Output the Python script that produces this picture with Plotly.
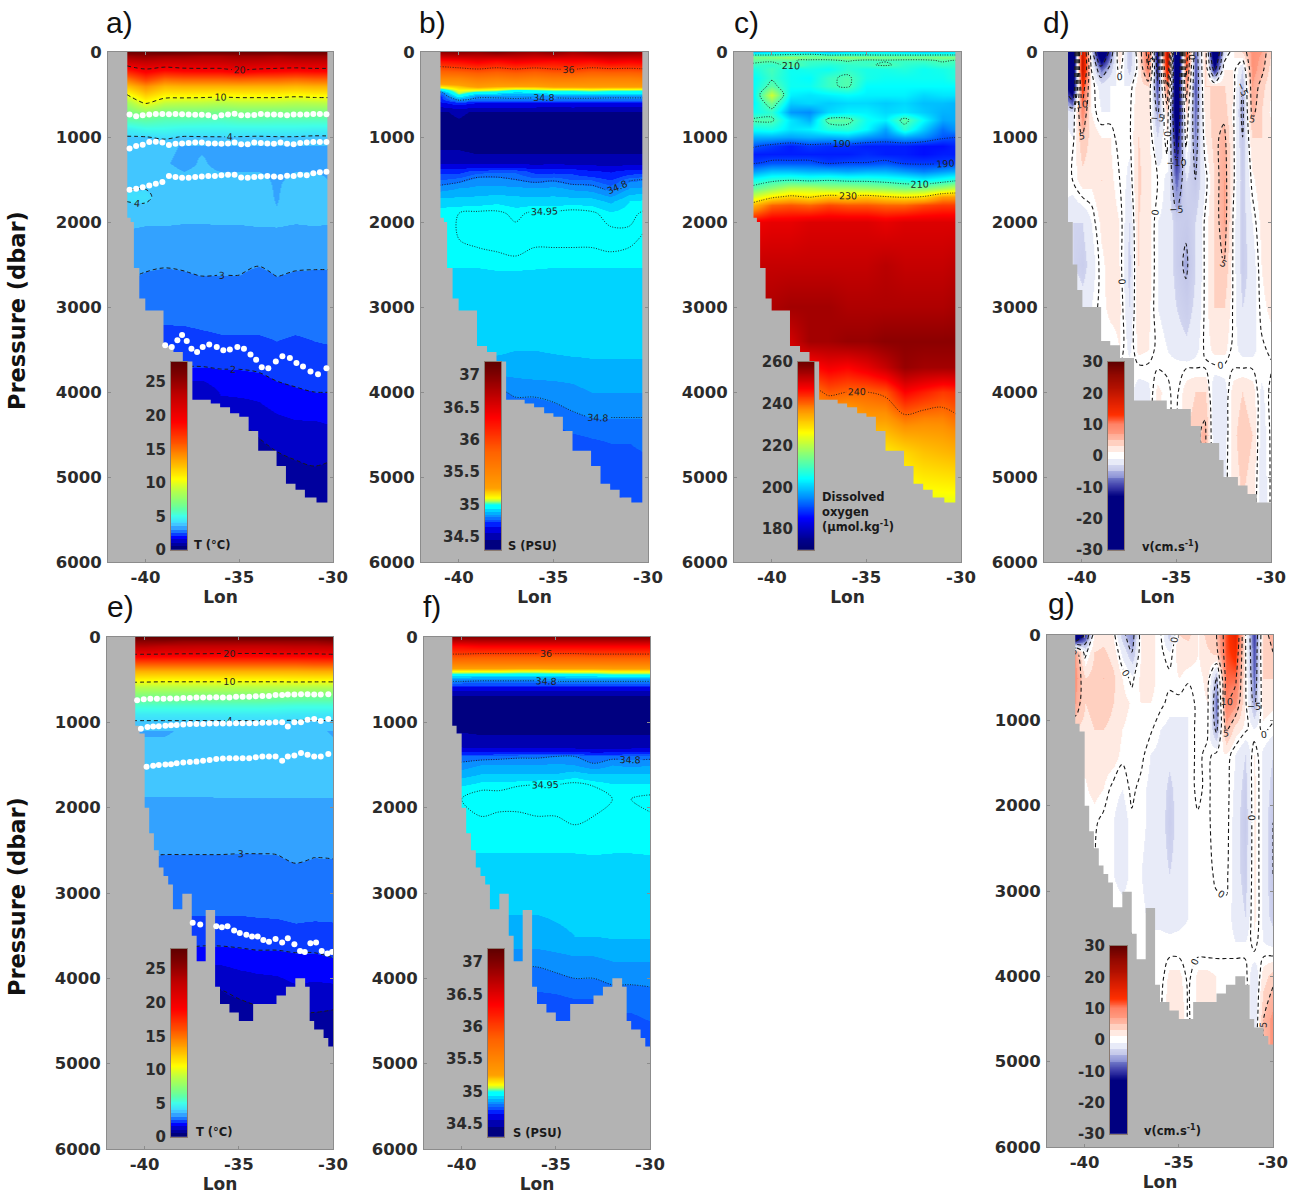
import plotly.graph_objects as go
import numpy as np

# ---------- grids ----------
lon12 = [-41,-40,-39,-38,-37,-36,-35,-34,-33,-32,-31,-30]
lon23 = [-41,-40.5,-40,-39.5,-39,-38.5,-38,-37.5,-37,-36.5,-36,-35.5,-35,-34.5,-34,-33.5,-33,-32.5,-32,-31.5,-31,-30.5,-30]
depth_t = [0,50,100,200,300,400,500,600,700,800,900,1000,1100,1300,1500,1700,2000,2300,2600,3000,3400,3700,4000,4400,4800,5300]
depth_s = [0,100,200,300,400,450,480,520,560,600,700,1000,1200,1300,1400,1500,1600,1750,1900,2200,2500,2600,3000,3500,3800,4000,4300,4600,5300]
depth_o = [0,30,60,100,150,200,300,400,500,600,700,800,900,1000,1100,1200,1300,1400,1500,1600,1700,1800,2000,2500,3000,3400,3700,4000,4300,4700,5300]
depth_v_d = [0,200,400,700,1000,1500,2000,2500,3000,3500,3700,4000,4500,5300]
depth_v_g = [0,200,500,800,1100,1400,1800,2200,2800,3300,3600,3750,4000,4500,4800]

# ---------- temperature, panel a ----------
temp_a = [
[27,27,27.5,27,27,27,27,27,27,27,27,27],
[24.5,25,24.5,24.5,24,24,24.5,24.5,24,24.5,24.5,24.5],
[22.5,23,22.5,22.6,22.6,22.6,23,22.8,22.5,22.6,22.6,22.6],
[18.5,20,19.3,19.7,19.8,19.8,20.5,20,19.8,19.6,19.8,19.8],
[15,17,15.5,15.8,15.8,15.8,16,15.8,15.8,15.5,15.8,15.8],
[12.5,14,12.8,13,13,13,13,13,13,12.8,13,13],
[10,12,10.8,10.8,10.7,10.6,10.7,10.7,10.7,10.5,10.7,10.7],
[8,10.2,9,8.8,8.8,8.6,8.8,8.8,8.8,8.6,8.7,8.8],
[6.8,7.6,6.9,6.9,6.8,6.7,6.9,6.9,6.8,6.9,6.8,6.8],
[5.8,6,5.7,5.7,5.6,5.5,5.7,5.7,5.6,5.6,5.6,5.6],
[4.5,4.9,4.9,4.7,4.7,4.7,4.7,4.7,4.7,4.7,4.6,4.6],
[3.95,3.97,4.15,3.95,3.97,3.98,3.97,3.93,3.97,3.97,3.9,3.93],
[3.6,3.52,3.55,3.48,3.48,3.48,3.48,3.48,3.48,3.48,3.48,3.48],
[3.52,3.52,3.52,3.45,3.52,3.45,3.45,3.45,3.45,3.45,3.45,3.45],
[3.8,3.8,3.6,3.55,3.55,3.55,3.55,3.55,3.47,3.55,3.55,3.48],
[4.1,4.15,3.7,3.65,3.65,3.65,3.65,3.65,3.47,3.7,3.7,3.6],
[3.6,3.55,3.55,3.52,3.52,3.53,3.53,3.56,3.56,3.52,3.55,3.52],
[3.25,3.2,3.2,3.2,3.2,3.22,3.22,3.22,3.25,3.22,3.2,3.2],
[3.08,2.99,2.95,2.98,3.03,3.02,3.02,2.92,3.03,2.98,2.97,2.97],
[2.7,2.68,2.66,2.68,2.7,2.7,2.7,2.72,2.72,2.72,2.74,2.74],
[2.35,2.35,2.35,2.35,2.4,2.45,2.45,2.45,2.5,2.45,2.5,2.55],
[2,2,2,2,2,2.05,2.05,2.1,2.2,2.2,2.25,2.25],
[1.5,1.5,1.3,1.1,1.05,1.55,1.6,1.65,1.85,1.95,2,2],
[1,1,1,1,1,1,0.95,1.1,1.3,1.4,1.4,1.5],
[0.8,0.8,0.8,0.8,0.8,0.8,0.8,0.8,0.9,1,1.05,1],
[0.7,0.7,0.7,0.7,0.7,0.7,0.7,0.7,0.7,0.7,0.7,0.7],
]

# ---------- temperature, panel e ----------
temp_e = [
[27.5,27.5,27.5,27.5,27.5,27.5,27.5,27.5,27.5,27.5,27.5,27.5],
[25.5,25.5,25.5,25,25,25,25,25,25,25,25,25.5],
[23.5,23.5,23,23,22.8,22.8,22.7,22.7,22.8,23,23,23.2],
[20.1,20.1,20,19.9,19.9,19.8,19.8,19.8,19.9,19.9,19.9,20.1],
[16,16,16,16,16,16,16,16,16,16,16.2,16.2],
[13,13,13,13,13,13,13,13,13,13,13.1,13.1],
[10.7,10.6,10.5,10.5,10.5,10.5,10.5,10.5,10.5,10.6,10.6,10.6],
[8.5,8.5,8.5,8.5,8.5,8.5,8.5,8.5,8.5,8.4,8.3,8.3],
[6.7,6.7,6.7,6.7,6.7,6.7,6.7,6.7,6.6,6.5,6.4,6.4],
[5.4,5.4,5.4,5.4,5.4,5.4,5.4,5.4,5.3,5.2,5.2,5.2],
[4.4,4.4,4.4,4.4,4.4,4.4,4.4,4.4,4.4,4.3,4.3,4.3],
[3.9,3.9,3.9,3.9,3.9,3.9,3.9,3.9,3.9,3.9,3.92,3.92],
[3.55,3.45,3.45,3.55,3.6,3.6,3.52,3.6,3.6,3.52,3.6,3.45],
[3.6,3.6,3.6,3.6,3.6,3.6,3.6,3.6,3.6,3.6,3.6,3.6],
[3.65,3.65,3.65,3.65,3.65,3.65,3.65,3.65,3.65,3.65,3.65,3.65],
[3.62,3.62,3.62,3.62,3.62,3.62,3.62,3.62,3.62,3.62,3.62,3.62],
[3.4,3.4,3.4,3.4,3.4,3.42,3.42,3.42,3.42,3.42,3.42,3.42],
[3.2,3.2,3.2,3.2,3.2,3.2,3.2,3.2,3.2,3.2,3.2,3.2],
[3,2.98,2.96,2.96,2.96,2.96,2.95,2.95,2.96,3.05,2.99,3],
[2.65,2.65,2.65,2.65,2.65,2.65,2.65,2.65,2.65,2.66,2.68,2.68],
[2.42,2.42,2.42,2.42,2.42,2.42,2.42,2.44,2.45,2.48,2.46,2.47],
[1.9,1.9,1.9,1.9,1.85,1.85,1.9,1.95,1.95,2,2,2.1],
[1.1,1.1,1.1,1.1,1.1,1.1,1.3,1.4,1.45,1.6,1.55,1.6],
[0.8,0.8,0.8,0.8,0.8,0.8,0.8,0.9,0.95,1,1,0.95],
[0.7,0.7,0.7,0.7,0.7,0.7,0.7,0.7,0.7,0.7,0.75,0.75],
[0.65,0.65,0.65,0.65,0.65,0.65,0.65,0.65,0.65,0.65,0.65,0.65],
]

# ---------- salinity, panel b ----------
sal_b = [
[36.9,36.95,36.9,37,36.9,36.85,36.95,36.8,36.9,36.9,36.9,36.85],
[36.25,36.3,36.4,36.3,36.4,36.35,36.3,36.35,36.3,36.4,36.35,36.4],
[35.9,35.95,36,35.95,36,35.95,36,36.02,35.95,35.98,35.97,36],
[35.5,35.5,35.6,35.55,35.6,35.55,35.6,35.6,35.55,35.55,35.55,35.6],
[35.15,35.2,35.3,35.25,35.25,35.25,35.3,35.3,35.3,35.3,35.3,35.3],
[34.9,35.1,35.08,35.05,34.98,35,35.03,35.03,35.05,35.03,35.03,35.02],
[34.75,35.05,34.92,34.92,34.88,34.9,34.93,34.92,34.94,34.92,34.92,34.92],
[34.7,34.95,34.82,34.82,34.82,34.82,34.83,34.83,34.83,34.82,34.82,34.82],
[34.68,34.82,34.78,34.78,34.79,34.78,34.77,34.78,34.78,34.78,34.78,34.78],
[34.62,34.7,34.64,34.64,34.64,34.64,34.62,34.64,34.62,34.62,34.62,34.62],
[34.44,34.46,34.44,34.44,34.44,34.44,34.44,34.44,34.44,34.44,34.44,34.44],
[34.42,34.42,34.41,34.4,34.41,34.4,34.4,34.41,34.4,34.4,34.4,34.4],
[34.46,34.46,34.45,34.45,34.45,34.45,34.45,34.45,34.45,34.45,34.45,34.45],
[34.54,34.54,34.54,34.54,34.54,34.52,34.54,34.52,34.52,34.5,34.52,34.52],
[34.7,34.7,34.74,34.75,34.75,34.7,34.7,34.7,34.66,34.64,34.68,34.7],
[34.76,34.78,34.82,34.82,34.8,34.78,34.79,34.76,34.76,34.72,34.79,34.8],
[34.82,34.84,34.85,34.85,34.85,34.84,34.85,34.83,34.82,34.78,34.84,34.85],
[34.9,34.9,34.9,34.91,34.9,34.9,34.9,34.9,34.9,34.87,34.92,34.93],
[34.94,34.95,34.96,34.96,34.94,34.96,34.96,34.97,34.96,34.93,34.94,34.96],
[34.94,34.95,34.96,34.96,34.97,34.96,34.96,34.96,34.96,34.97,34.96,34.94],
[34.93,34.93,34.93,34.94,34.94,34.93,34.93,34.93,34.93,34.93,34.93,34.93],
[34.9,34.9,34.9,34.91,34.91,34.91,34.9,34.89,34.9,34.9,34.9,34.9],
[34.89,34.89,34.89,34.89,34.89,34.89,34.89,34.89,34.89,34.89,34.89,34.89],
[34.88,34.88,34.885,34.89,34.88,34.88,34.885,34.89,34.89,34.89,34.89,34.89],
[34.85,34.85,34.85,34.84,34.845,34.85,34.85,34.85,34.86,34.86,34.86,34.86],
[34.8,34.8,34.8,34.79,34.81,34.81,34.82,34.83,34.84,34.84,34.84,34.84],
[34.76,34.76,34.76,34.76,34.76,34.76,34.77,34.79,34.8,34.8,34.8,34.8],
[34.73,34.73,34.73,34.73,34.73,34.73,34.73,34.74,34.75,34.76,34.76,34.77],
[34.7,34.7,34.7,34.7,34.7,34.7,34.7,34.7,34.71,34.71,34.72,34.72],
]

# ---------- salinity, panel f ----------
sal_f = [
[36.95,36.95,36.95,36.95,36.95,36.95,36.95,36.95,36.95,36.95,36.95,36.95],
[36.3,36.3,36.35,36.35,36.35,36.35,36.35,36.35,36.35,36.35,36.35,36.35],
[36,36,35.98,35.98,35.98,35.98,35.98,35.98,36,36,36,36],
[35.55,35.55,35.55,35.55,35.55,35.55,35.55,35.55,35.55,35.55,35.55,35.55],
[35.1,35.1,35.1,35.1,35.08,35.08,35.1,35.1,35.1,35.12,35.12,35.12],
[34.95,34.95,34.93,34.93,34.93,34.93,34.93,34.95,34.95,34.97,34.97,34.97],
[34.85,34.85,34.85,34.85,34.85,34.85,34.85,34.85,34.85,34.86,34.86,34.86],
[34.8,34.8,34.79,34.79,34.79,34.79,34.8,34.8,34.8,34.8,34.8,34.8],
[34.72,34.72,34.72,34.72,34.72,34.72,34.72,34.72,34.72,34.72,34.72,34.72],
[34.6,34.6,34.6,34.6,34.6,34.6,34.6,34.6,34.6,34.6,34.6,34.6],
[34.43,34.43,34.43,34.43,34.43,34.43,34.43,34.43,34.43,34.43,34.43,34.43],
[34.42,34.42,34.42,34.42,34.42,34.42,34.42,34.42,34.42,34.42,34.42,34.42],
[34.47,34.47,34.46,34.46,34.46,34.46,34.46,34.46,34.46,34.46,34.46,34.46],
[34.56,34.56,34.55,34.55,34.55,34.55,34.55,34.55,34.53,34.53,34.55,34.55],
[34.74,34.76,34.77,34.78,34.79,34.79,34.8,34.8,34.76,34.78,34.78,34.78],
[34.8,34.82,34.84,34.84,34.84,34.84,34.85,34.84,34.81,34.84,34.83,34.84],
[34.84,34.86,34.88,34.88,34.88,34.88,34.88,34.9,34.88,34.88,34.88,34.88],
[34.9,34.92,34.94,34.94,34.95,34.96,34.96,34.97,34.95,34.93,34.93,34.93],
[34.93,34.95,34.97,34.97,34.97,34.97,34.97,34.97,34.97,34.95,34.95,34.96],
[34.94,34.94,34.94,34.93,34.93,34.94,34.94,34.95,34.94,34.94,34.94,34.94],
[34.925,34.925,34.925,34.925,34.925,34.925,34.925,34.925,34.93,34.925,34.925,34.93],
[34.91,34.91,34.91,34.91,34.91,34.91,34.91,34.91,34.91,34.91,34.91,34.91],
[34.89,34.89,34.89,34.89,34.89,34.89,34.89,34.89,34.89,34.89,34.89,34.89],
[34.87,34.87,34.87,34.87,34.87,34.87,34.875,34.88,34.88,34.885,34.885,34.885],
[34.81,34.81,34.81,34.81,34.81,34.81,34.82,34.83,34.83,34.84,34.84,34.84],
[34.78,34.78,34.78,34.78,34.78,34.78,34.79,34.8,34.8,34.81,34.81,34.81],
[34.74,34.74,34.74,34.74,34.74,34.74,34.74,34.75,34.75,34.77,34.77,34.78],
[34.72,34.72,34.72,34.72,34.72,34.72,34.72,34.72,34.72,34.74,34.74,34.75],
[34.7,34.7,34.7,34.7,34.7,34.7,34.7,34.7,34.7,34.72,34.72,34.72],
]

# ---------- dissolved oxygen, panel c ----------
oxy_c = [
[200,202,203,202,200,202,203,203,202,201,202,203],
[209,209,210,211,209,209,209,209,209,209,209,209],
[214,215,217,214,214,216,215,214,214,214,215,215],
[212,211,210.5,209,209,210.5,209,209.5,209,209,210.5,209.5],
[209,208,212,208,207,208,209,211,208,207,209,208],
[206,210,205,206,205,208,206,206,207,205,206,208],
[204,209,205,204,209,211,206,205,205,205,205,208],
[204,212,205,205,209,211,204,204,204,204,204,204],
[203,222,203,202,203,204,203,203,203,201,202,202],
[203,214,200,201,200,201,201,200,201,199,199,198],
[205,208,196,195,201,203,203,201,202,200,198,198],
[211,211,202,198,212,212,205,203,212,204,197,198],
[205,206,202,203,207,208,204,197,208,200,193,197],
[198,198,197,198,198,199,196,194,197,195,191,190],
[191,189,187,189,188,188,187,187,187,186,186,188],
[187,187,187,187,187,187,188,187,187,186,187,187],
[189,191,191,191,189,190,190,191,189,189,189,190],
[196,199,199,198,198,197,198,198,196,194,196,198],
[205,208,209,208,209,208,208,207,206,204,206,209],
[212,216,220,220,218,218,217,216,214,215,218,222],
[222,228,231,229,232,231,232,230,229,230,236,236],
[233,240,241,240,242,241,241,240,240,242,243,243],
[248,249,249,250,250,250,250,249,250,250,250,250],
[252,252,252,252,252,252,252,253,252,252,252,253],
[254,254,255,255,255,254,254,254,254,254,254,255],
[253,253,251,255,255,256,256,257,257,257,257,257],
[246,246,248,246,248,247,249,252,256,255,255,255],
[239,239,240,238,241,240,240,241,247,245,243,244],
[235,235,235,235,234,234,236,236,239,238,238,240],
[226,226,226,226,226,226,228,228,230,232,233,234],
[221,221,221,221,221,221,222,222,223,224,224,224],
]

# ---------- meridional velocity, panel d ----------
vel_d = [
[-20,-22,20,-2,-20,-8,3,-5,2,12,-14,22,-26,14,-8,4,-20,-2,1,3,8,7,3],
[-18,-20,20,0,-8,-4,1,-4,1,10,-12,18,-24,12,-9,4,-12,1,1,-3,8,6,2],
[-10,-18,14,1,-2,-1,-1,-1,2,3,-9,10,-20,8,-9,3,3,3,1,-5,7,4,1],
[-1,-3,9,1,-1,-1,-1,-0.5,2.5,2,-6,3,-18,3,-8,2,4,4,0.5,-6,6,3,0.5],
[0,-1,5,2,1,1,-1,-0.5,3,2,-3,1,-14,1,-7,1,4,6,0.5,-5,3,3,2],
[0,0,2,1.5,3,1.5,0,-1.5,3.5,1.5,0,-1.5,-8,-3,-5,-1,3,7,0.5,-4,0.5,2.5,2.5],
[-2,-3,-3,-1,1.5,2,1,-3,3,2,-1,-1.5,-4,-4.5,-3,0.2,3,7,-0.2,-4,-1,1.5,2.5],
[-2,-3,-4,-2,0.5,2,1,-4,3,2,-1,-1.5,-4,-5.5,-3,0.2,3,5,-0.2,-4,-2,1,2.5],
[0.1,0.1,-2,-1,0.5,1.5,1.5,-3,2.5,1.5,-1,-1.5,-3,-4,-2.5,0.2,3,3,-0.2,-3,-2,0.5,1.5],
[0.1,0.1,0.1,0.1,0.1,0.1,1,-1.5,1.5,1,-0.5,-1,-2,-2.5,-1.5,0.2,1.5,1.5,-0.5,-1.5,-1.5,-0.3,0.3],
[-0.2,-0.2,-0.2,-0.2,-0.2,-0.2,-0.2,-0.2,-0.2,-0.2,-0.2,-0.2,-0.2,-0.2,-0.2,-0.2,-0.2,-0.2,-0.2,-0.2,-0.2,-0.2,-0.2],
[-0.2,-0.2,-0.2,-0.2,-0.2,-0.2,-0.2,-0.2,-2,-1.5,1.5,0.3,-0.5,2,3,3,-3,-2,2,3,2,-1.5,0.5],
[-0.2,-0.2,-0.2,-0.2,-0.2,-0.2,-0.2,-0.2,-1,-1,1,0.3,-0.5,3,4,6,-3,-2,2.5,4,3,-2,0.3],
[-0.2,-0.2,-0.2,-0.2,-0.2,-0.2,-0.2,-0.2,-0.5,-0.5,0.5,0.3,-0.5,2,3,3,-2,-1,2,3,2,-2.5,0.3],
]

# ---------- meridional velocity, panel g ----------
vel_g = [
[-20,-20,-10,1.5,2,1,-4,-7,1.5,1.5,0.5,-4,3,3.5,1,4,5,12,16,1,-10,4,6],
[5,7,-1,3,3.5,2,-1.5,-5,1.5,1.5,0.5,-1,2,2,1,2.5,4,12,14,1,-9,4,5],
[8,8,3,4,5,3.5,1,-0.5,1.5,1.5,0.5,0.5,1,0.3,0.5,1.5,-5,11,11,1,-8,3,3],
[7,7,3,4,4,3,1.5,0.8,1,1,0.5,-0.5,-0.5,-1,0.5,1,-8,10,8,1,-6,2,1.5],
[3,3,2,3,3,2.5,1,0.5,0.5,0.3,-1,-1.5,-1.5,-1,0.5,0.5,-6,6,2,0.5,-1,0.5,-0.5],
[1,1,1.5,2,2,2,0.4,0.3,0.5,-1,-1.5,-2.5,-2,-1,0.5,-0.5,0.5,1,-1,-3,1,-1.5,-3],
[0.5,0.5,0.8,1.5,1,-0.5,-1,0.4,-0.5,-1.5,-2,-3.5,-2,-1,0.5,-0.5,1,0.8,-1.5,-4,1.5,-1.5,-4],
[0.1,0.1,0.1,0.3,-0.5,-1,-2,-0.3,-0.5,-1.5,-2,-4,-2,-1,-0.3,-0.5,1,0.8,-2,-4.5,1.5,-1.5,-5],
[0.1,0.1,0.1,0.1,-0.3,-1,-2,-0.3,-1,-2,-2,-3,-2,-1,-1,-0.5,0.3,0.5,-2,-4,1.5,-1.5,-5],
[0.1,0.1,0.1,0.1,0.1,0.1,0.1,-0.3,-0.5,-1.5,-1.5,-2,-1.5,-1,-1,-1,-0.5,-0.5,-1.5,-3,1.5,-1.5,-4],
[0.1,0.1,0.1,0.1,0.1,0.1,0.1,0.1,-0.5,-0.5,-0.5,-0.5,-0.5,-0.5,-0.5,-0.5,-0.5,-0.5,-1,-1,0.5,-1,-1.5],
[-0.2,-0.2,-0.2,-0.2,-0.2,-0.2,-0.2,-0.2,-0.2,-0.2,-0.2,-0.2,-0.2,-0.2,-0.2,-0.2,-0.2,-0.2,-0.2,-0.2,-0.2,-0.2,-0.2],
[-0.2,-0.2,-0.2,-0.2,-0.2,-0.2,-0.2,-0.2,-0.2,-0.2,-1,1.5,1.5,-0.5,1.5,1.5,1,1,1,1,-3,2,4],
[-0.2,-0.2,-0.2,-0.2,-0.2,-0.2,-0.2,-0.2,-0.2,-0.2,-0.5,2.5,2.5,-0.3,1.5,1.5,1,1,1,1,-3,5,8],
[-0.2,-0.2,-0.2,-0.2,-0.2,-0.2,-0.2,-0.2,-0.2,-0.2,-0.5,2,2,-0.3,1,1,1,1,1,1,-2,5,8],
]

# ---------- bottom topography (step lon, depth to next step) ----------
bathy_lon_abc = [-40.97,-40.79,-40.62,-40.33,-40.01,-39.04,-38.51,-38.01,-37.5,-36.52,-36.02,-35.49,-35.0,-34.5,-33.99,-33.01,-32.51,-32.0,-31.5,-30.88,-30.3]
bathy_dep_abc = [1950,2000,2540,2900,3040,3460,3530,3640,4090,4135,4180,4250,4290,4460,4690,4870,5080,5150,5240,5300,0]
bathy_lon_d = [-40.73,-40.48,-40.24,-39.97,-38.98,-38.5,-37.98,-37.24,-35.51,-34.24,-33.71,-32.74,-32.51,-31.75,-31.24,-30.75,-30]
bathy_dep_d = [2000,2500,2800,3000,3400,3450,3600,4100,4200,4400,4600,4800,5000,5100,5200,5300,0]
bathy_lon_efg = [-40.5,-40.27,-40.0,-39.76,-39.51,-39.25,-39.0,-38.75,-38.5,-38.0,-37.5,-37.24,-36.76,-36.26,-36.0,-35.5,-35.0,-34.24,-33.0,-32.5,-32.0,-31.48,-31.24,-31.0,-30.5,-30.25,-30]
bathy_dep_efg = [1040,1130,2000,2300,2500,2700,2800,2900,3190,3010,3500,3800,3200,4100,4300,4400,4500,4300,4200,4100,4000,4100,4500,4600,4700,4800,0]

# ---------- white dots ----------
dots_lon_a = [-40.85,-40.5,-40.15,-39.8,-39.45,-39.1,-38.75,-38.4,-38.05,-37.7,-37.35,-37.0,-36.65,-36.3,-35.95,-35.6,-35.25,-34.9,-34.55,-34.2,-33.85,-33.5,-33.15,-32.8,-32.45,-32.1,-31.75,-31.4,-31.05,-30.7,-30.35]
dots_a1 = [735,755,745,735,730,730,732,730,732,735,738,738,745,765,745,735,725,745,745,740,730,735,735,738,745,735,735,735,730,728,733]
dots_a2 = [1135,1105,1090,1060,1055,1065,1095,1080,1075,1070,1065,1065,1075,1075,1080,1075,1065,1085,1085,1065,1070,1075,1080,1065,1080,1085,1070,1065,1060,1060,1060]
dots_a3 = [1620,1610,1590,1570,1550,1530,1460,1470,1480,1480,1470,1465,1460,1460,1450,1445,1445,1475,1480,1470,1465,1460,1465,1470,1455,1460,1445,1450,1425,1415,1410]
dots_lon_a4 = [-38.95,-38.6,-38.3,-38.05,-37.8,-37.55,-37.25,-36.95,-36.6,-36.2,-35.85,-35.5,-35.1,-34.75,-34.4,-34.1,-33.8,-33.45,-33.05,-32.7,-32.3,-31.95,-31.6,-31.2,-30.8,-30.35]
dots_a4 = [3450,3470,3390,3330,3400,3490,3530,3470,3440,3470,3510,3500,3470,3490,3560,3620,3710,3720,3640,3580,3600,3660,3700,3760,3790,3720]
dots_lon_e = [-40.4,-40.05,-39.7,-39.35,-39,-38.65,-38.3,-37.95,-37.6,-37.25,-36.9,-36.55,-36.2,-35.85,-35.5,-35.15,-34.8,-34.45,-34.1,-33.75,-33.4,-33.05,-32.7,-32.4,-32.05,-31.7,-31.35,-31,-30.65,-30.25]
dots_e1 = [740,730,725,725,725,720,720,715,715,710,710,710,705,710,710,700,700,700,695,690,690,680,680,675,675,670,670,675,675,670]
dots_lon_e2 = [-40.2,-39.85,-39.55,-39.25,-38.9,-38.6,-38.3,-37.95,-37.6,-37.25,-36.9,-36.55,-36.2,-35.85,-35.5,-35.15,-34.8,-34.45,-34.1,-33.75,-33.4,-33.05,-32.7,-32.4,-32.05,-31.7,-31.35,-31,-30.65,-30.25]
dots_e2 = [1075,1055,1050,1045,1040,1035,1030,1025,1020,1020,1020,1015,1015,1015,1015,1010,1010,1010,1010,1005,1005,1000,1000,1050,1000,1000,970,960,985,960]
dots_lon_e3 = [-39.9,-39.55,-39.25,-38.9,-38.6,-38.3,-37.95,-37.6,-37.25,-36.9,-36.55,-36.2,-35.85,-35.5,-35.15,-34.8,-34.45,-34.1,-33.75,-33.4,-33.05,-32.7,-32.4,-32.05,-31.7,-31.35,-31,-30.65,-30.25]
dots_e3 = [1520,1510,1500,1495,1490,1480,1470,1465,1460,1450,1440,1430,1425,1420,1420,1420,1420,1410,1400,1400,1400,1450,1400,1390,1360,1380,1400,1400,1370]
dots_lon_e4 = [-37.45,-37.05,-36.2,-35.9,-35.6,-35.25,-34.95,-34.6,-34.3,-34,-33.7,-33.4,-33.05,-32.7,-32.4,-32.05,-31.75,-31.5,-31.2,-30.9,-30.6,-30.3,-30.05]
dots_e4 = [3350,3370,3390,3400,3390,3440,3470,3490,3510,3510,3550,3570,3540,3580,3530,3600,3680,3690,3590,3580,3680,3710,3690]

# ---------- colour scales ----------
t_vals = [0,0.5,0.5,1,1,1.5,1.5,2,2,2.5,2.5,3,3,3.5,3.5,4,4,5,6,7,9,10.5,13.5,16,19,23,26,28]
t_cols = ['#00007a','#00007a','#00009e','#00009e','#0000c8','#0000c8','#0000ff','#0000ff','#0a3cff','#0a3cff','#1a75ff','#1a75ff','#33a2ff','#33a2ff','#42c6ff','#42c6ff','#3fdcff','#40ffe8','#60ffa8','#80ff80','#c0ff40','#ffff00','#ffa000','#ff5000','#ff0000','#c00000','#800000','#600000']
s_vals = [34.3,34.45,34.45,34.55,34.55,34.65,34.65,34.72,34.72,34.76,34.76,34.8,34.8,34.84,34.84,34.88,34.88,34.92,34.92,34.99,35.05,35.1,35.25,35.82,36.34,37.0,37.2]
s_cols = ['#000080','#000080','#0000b0','#0000b0','#0000e0','#0000e0','#0020ff','#0020ff','#0a50ff','#0a50ff','#0a70ff','#0a70ff','#0a90ff','#0a90ff','#00b0ff','#00b0ff','#00d4ff','#00d4ff','#00ffff','#00ffff','#c0ff40','#ffff00','#ffa000','#ff6000','#ff0000','#800000','#600000']
o_vals = [170,175,185,194,204,215,226,237,247,258,260]
o_cols = ['#000070','#000090','#0000ff','#0080ff','#00ffff','#80ff80','#ffff00','#ff9000','#ff0000','#800000','#700000']
v_vals = [-30,-13,-10,-7,-7,-5,-5,-3,-3,-1,-1,1,1,3,3,5,5,7,7,10,13,17,22,26,30]
v_cols = ['#000080','#000080','#3a3aa8','#7078c8','#8c93d6','#a8aee0','#c4c8ea','#d0d4ef','#e8ebf8','#e8ebf8','#ffffff','#ffffff','#ffeae2','#ffeae2','#ffd0c0','#ffd0c0','#ffb8a4','#ffab95','#ff9a80','#ff8468','#ff3000','#e02000','#b01000','#900800','#600000']

def scale(vals, cols):
    lo, hi = vals[0], vals[-1]
    return [[(v-lo)/(hi-lo), c] for v, c in zip(vals, cols)]

# ---------- page geometry (px) ----------
W, H = 1296, 1197
GREY = '#b3b3b3'
FAM = 'DejaVu Sans'
INK = '#2b2b2b'

panels = [
 dict(n=1,box=(108,333,52,562),lon=lon12,dep=depth_t,z=temp_a,vals=t_vals,cols=t_cols,levels=[(20,0,6000),(10,0,6000),(4,0,6000),(3,0,6000),(2,0,6000),(1,0,6000)],dash='4px,3px',lw=1,
      blon=bathy_lon_abc,bdep=bathy_dep_abc,cb=(171,187,362,550),cbt=[0,5,10,15,20,25],lab='a)',labxy=(119,22),unit='<b>T (°C)</b>',unitxy=(212,545)),
 dict(n=2,box=(421,648,52,562),lon=lon12,dep=depth_s,z=sal_b,vals=s_vals,cols=s_cols,levels=[(36,0,1000),(34.95,1000,3000),(34.8,0,6000)],dash='1px,1.5px',lw=0.9,
      blon=bathy_lon_abc,bdep=bathy_dep_abc,cb=(485,501,362,550),cbt=[34.5,35,35.5,36,36.5,37],lab='b)',labxy=(432,22),unit='<b>S (PSU)</b>',unitxy=(532,546)),
 dict(n=3,box=(734,961,52,562),lon=lon12,dep=depth_o,z=oxy_c,vals=o_vals,cols=o_cols,levels=[(190,900,1500),(210,0,1700),(230,1400,2500),(240,2500,6000)],dash='1px,1.5px',lw=0.9,
      blon=bathy_lon_abc,bdep=bathy_dep_abc,cb=(798,814,362,550),cbt=[180,200,220,240,260],lab='c)',labxy=(746,22),
      unit='<b>Dissolved<br>oxygen<br>(µmol.kg<sup>-1</sup>)</b>',unitxy=(858,512)),
 dict(n=4,box=(1044,1271,52,562),lon=lon23,dep=depth_v_d,z=vel_d,vals=v_vals,cols=v_cols,levels=[(0,0,6000),(5,0,6000),(-5,0,6000),(10,0,6000),(-10,0,6000)],dash='4px,3px',lw=1.1,
      blon=bathy_lon_d,bdep=bathy_dep_d,cb=(1108,1124,362,550),cbt=[-30,-20,-10,0,10,20,30],lab='d)',labxy=(1056,22),
      unit='<b>v(cm.s<sup>-1</sup>)</b>',unitxy=(1170,546)),
 dict(n=5,box=(107,333,637,1149),lon=lon12,dep=depth_t,z=temp_e,vals=t_vals,cols=t_cols,levels=[(20,0,6000),(10,0,6000),(4,0,6000),(3,0,6000),(2,0,6000),(1,0,6000)],dash='4px,3px',lw=1,
      blon=bathy_lon_efg,bdep=bathy_dep_efg,cb=(171,187,949,1137),cbt=[0,5,10,15,20,25],lab='e)',labxy=(120,606),unit='<b>T (°C)</b>',unitxy=(214,1132)),
 dict(n=6,box=(424,650,637,1149),lon=lon12,dep=depth_s,z=sal_f,vals=s_vals,cols=s_cols,levels=[(36,0,1000),(34.95,1000,3000),(34.8,0,6000)],dash='1px,1.5px',lw=0.9,
      blon=bathy_lon_efg,bdep=bathy_dep_efg,cb=(488,504,949,1137),cbt=[34.5,35,35.5,36,36.5,37],lab='f)',labxy=(432,606),unit='<b>S (PSU)</b>',unitxy=(537,1133)),
 dict(n=7,box=(1047,1273,635,1147),lon=lon23,dep=depth_v_g,z=vel_g,vals=v_vals,cols=v_cols,levels=[(0,0,6000),(5,0,6000),(-5,0,6000),(10,0,6000),(-10,0,6000)],dash='4px,3px',lw=1.1,
      blon=bathy_lon_efg,bdep=bathy_dep_efg,cb=(1110,1127,946,1134),cbt=[-30,-20,-10,0,10,20,30],lab='g)',labxy=(1061,603),
      unit='<b>v(cm.s<sup>-1</sup>)</b>',unitxy=(1172,1130)),
]
dot_sets = {1:[(dots_lon_a,dots_a1),(dots_lon_a,dots_a2),(dots_lon_a,dots_a3),(dots_lon_a4,dots_a4)],
            5:[(dots_lon_e,dots_e1),(dots_lon_e2,dots_e2),(dots_lon_e3,dots_e3),(dots_lon_e4,dots_e4)]}

fig = go.Figure()
layout = {}
annots = []

def aid(i):
    return '' if i == 1 else str(i)

def dom(a, b, total):
    return [a/total, b/total]

for p in panels:
    n = p['n']
    for r in p['z']:
        assert len(r) == len(p['lon'])
    assert len(p['z']) == len(p['dep'])
    xa, ya = 'x'+aid(n), 'y'+aid(n)
    cs = scale(p['vals'], p['cols'])
    lo, hi = p['vals'][0], p['vals'][-1]
    fig.add_trace(go.Heatmap(x=p['lon'], y=p['dep'], z=p['z'], zmin=lo, zmax=hi, colorscale=cs,
                             zsmooth='best', showscale=False, hoverinfo='skip', xaxis=xa, yaxis=ya))
    for lev, dmin, dmax in p['levels']:
        keep = [i for i, d in enumerate(p['dep']) if dmin <= d <= dmax]
        fig.add_trace(go.Contour(x=p['lon'], y=[p['dep'][i] for i in keep], z=[p['z'][i] for i in keep], autocontour=False,
                                 contours=dict(start=lev, end=lev, size=1, coloring='none', showlabels=True,
                                               labelfont=dict(size=9.5, color='#222', family=FAM)),
                                 line=dict(color='#1a1a1a', dash=p['dash'], width=p['lw']),
                                 showscale=False, hoverinfo='skip', xaxis=xa, yaxis=ya))
    # topography
    bx, by = [-42], [0]
    prev = 0
    for lo_, d_ in zip(p['blon'], p['bdep']):
        bx += [lo_, lo_]
        by += [prev, d_]
        prev = d_
    bx += [-30, -30, -42, -42]
    by += [prev, 6000, 6000, 0]
    fig.add_trace(go.Scatter(x=bx, y=by, mode='lines', fill='toself', fillcolor=GREY,
                             line=dict(width=0, color=GREY), hoverinfo='skip', showlegend=False, xaxis=xa, yaxis=ya))
    for dx, dy in dot_sets.get(n, []):
        assert len(dx) == len(dy)
        fig.add_trace(go.Scatter(x=dx, y=dy, mode='markers', marker=dict(color='white', size=6),
                                 hoverinfo='skip', showlegend=False, xaxis=xa, yaxis=ya))
    x0, x1, y0, y1 = p['box']
    layout['xaxis'+aid(n)] = dict(domain=dom(x0, x1, W), range=[-42,-30], tickvals=[-40,-35,-30], ticktext=['-40','-35','-30'], automargin=False,
        ticks='inside', ticklen=3, tickcolor='#8c8c8c', showgrid=False, zeroline=False, showline=True, linecolor='#8c8c8c', linewidth=1, mirror='allticks',
        anchor=ya, tickfont=dict(family=FAM, size=16.5, color=INK, weight=700), ticklabelstandoff=0,
        title=dict(text='Lon', font=dict(family=FAM, size=17, color=INK, weight=700), standoff=4))
    layout['yaxis'+aid(n)] = dict(domain=[1-y1/H, 1-y0/H], range=[6000,0], tickvals=[0,1000,2000,3000,4000,5000,6000], automargin=False,
        ticks='inside', ticklen=3, tickcolor='#8c8c8c', showgrid=False, zeroline=False, showline=True, linecolor='#8c8c8c', linewidth=1, mirror='allticks',
        anchor=xa, tickfont=dict(family=FAM, size=16.5, color=INK, weight=700), ticklabelstandoff=2)
    # colour bar built as a small heatmap on its own axes
    m = n + 7
    cx, cy = 'x'+str(m), 'y'+str(m)
    ramp = np.linspace(lo, hi, 400)
    fig.add_trace(go.Heatmap(x=[0,1], y=ramp, z=[[v, v] for v in ramp], zmin=lo, zmax=hi, colorscale=cs,
                             showscale=False, hoverinfo='skip', xaxis=cx, yaxis=cy))
    c0, c1, c2, c3 = p['cb']
    layout['xaxis'+str(m)] = dict(domain=dom(c0, c1, W), range=[0,1], showticklabels=False, ticks='', showgrid=False, zeroline=False, automargin=False,
        showline=True, linecolor='#8a7a70', linewidth=1, mirror=True, anchor=cy)
    layout['yaxis'+str(m)] = dict(domain=[1-c3/H, 1-c2/H], range=[lo,hi], tickvals=p['cbt'], ticktext=[str(t) for t in p['cbt']], automargin=False,
        ticks='', showgrid=False, zeroline=False, showline=True, linecolor='#8a7a70', linewidth=1, mirror=True, anchor=cx,
        tickfont=dict(family=FAM, size=15, color=INK, weight=700), ticklabelstandoff=1)
    annots.append(dict(text=p['lab'], x=p['labxy'][0]/W, y=1-p['labxy'][1]/H, xref='paper', yref='paper', showarrow=False,
                       xanchor='center', yanchor='middle', font=dict(family='Liberation Sans', size=30, color='#111')))
    annots.append(dict(text=p['unit'], x=p['unitxy'][0]/W, y=1-p['unitxy'][1]/H, xref='paper', yref='paper', showarrow=False, align='left',
                       xanchor='center', yanchor='middle', font=dict(family=FAM, size=11.5, color='#1a1a1a')))

for yy in (311, 897):
    annots.append(dict(text='<b>Pressure (dbar)</b>', x=17/W, y=1-yy/H, xref='paper', yref='paper', showarrow=False, textangle=-90,
                       xanchor='center', yanchor='middle', font=dict(family=FAM, size=22.5, color='#111')))

fig.update_layout(width=W, height=H, margin=dict(l=0, r=0, t=0, b=0), paper_bgcolor='white', plot_bgcolor=GREY,
                  showlegend=False, annotations=annots, **layout)
fig.write_html("out.html", post_script="document.body.style.margin='0';", config=dict(displayModeBar=False))
